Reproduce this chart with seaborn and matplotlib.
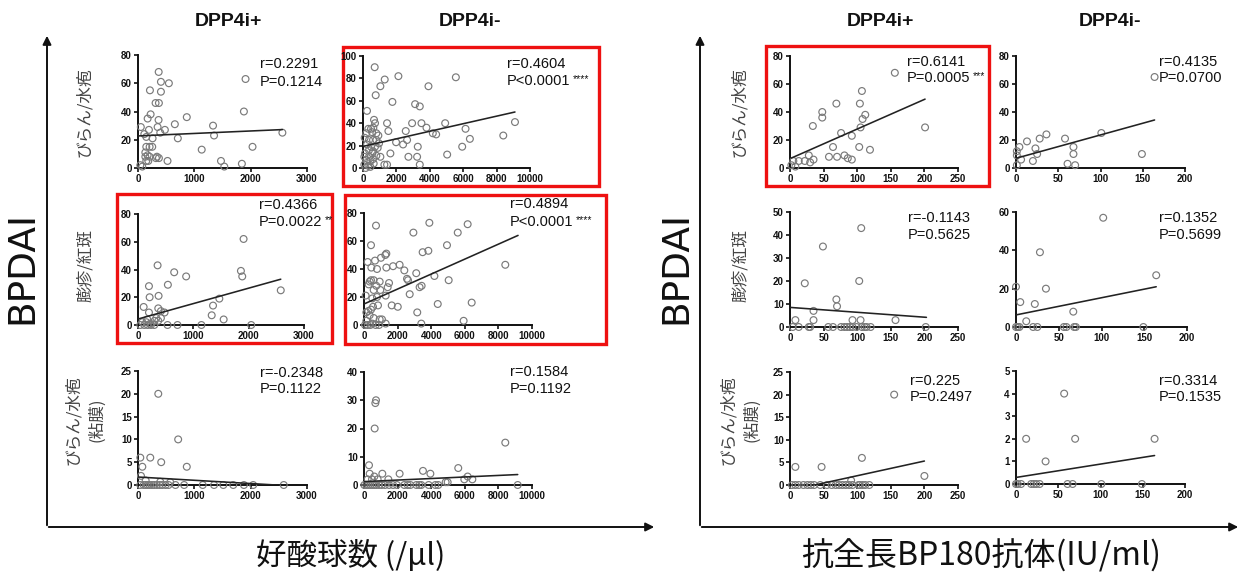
import numpy as np
import pandas as pd
import matplotlib
matplotlib.use("Agg")
import matplotlib.pyplot as plt
import seaborn as sns
from matplotlib.patches import Rectangle

# ---------------- DATA ----------------
# Eosinophil count (/µl), DPP4i+ : erosion/blister
eos_pos_ero_x = [367,407,548,407,212,312,371,365,224,171,654,866,348,477,194,395,112,147,259,707,
                 1332,1350,1880,1909,2033,2563,1131,1473,1532,1844,524,147,206,253,130,171,206,336,371,318,
                 130,147,183,41,76,50]
eos_pos_ero_y = [68,61,60,54,55,46,46,34,38,35,31,36,29,27,27,25,24,22,21,21,
                 30,23,40,63,15,25,13,5,1,3,5,15,15,15,11,9,8,8,7,7,
                 8,5,5,2,1,29]
# DPP4i- : erosion/blister
eos_neg_ero_x = [700,2120,5560,1300,1040,3920,760,1760,240,3120,3400,660,720,1440,2940,3500,4920,9100,3800,6140,
                 1520,2560,4180,4380,6400,8400,2640,2400,3280,5940,1980,1640,5040,1040,2720,3240,3400,1280,1440,
                 320,480,620,540,800,920,200,100,360,600,800,960,240,480,720,880,360,600,120,560,800,80,360,600,
                 200,440,80,320,640,160,440]
eos_neg_ero_y = [90,82,81,79,73,73,65,59,51,57,55,43,40,40,40,40,40,41,36,35,
                 33,33,31,30,26,29,25,21,19,19,23,13,12,10,10,10,3,3,3,
                 35,35,36,32,31,29,31,27,25,25,25,22,21,19,19,18,16,15,13,13,11,10,10,
                 8,7,6,3,2,4,0,1]
# DPP4i+ : wheal/erythema
eos_pos_whl_x = [354,654,870,1908,1860,1884,2580,198,210,372,540,102,198,366,414,480,1470,1356,1332,1548,
                 414,330,300,168,366,534,714,1146,2046,42,114,174,234,294,78,150,222]
eos_pos_whl_y = [43,38,35,62,39,35,25,28,20,21,29,13,9,12,10,9,19,14,7,4,
                 5,5,3,4,3,0,0,0,0,0,0,0,0,0,2,2,1]
# DPP4i- : wheal/erythema
eos_neg_whl_x = [714,3890,6170,2940,5580,417,4940,1330,1270,3490,3830,1010,655,218,2120,1730,2400,437,774,1330,
                 8410,3110,2560,2620,4190,5040,417,337,575,933,734,278,1490,1410,3310,3430,972,575,2720,99,
                 1290,774,496,1650,2010,4390,6410,833,536,417,258,3170,5930,3410,139,337,575,933,1070,1290,
                 60,218,377,496,694,893,139]
eos_neg_whl_y = [71,73,72,66,66,57,57,51,50,52,53,48,46,45,43,42,39,41,40,41,
                 43,37,33,32,35,32,32,31,32,31,28,29,30,27,27,28,25,25,22,21,
                 21,20,19,14,13,15,16,14,13,11,10,9,3,1,9,7,5,4,4,1,
                 0,0,0,1,0,0,3]
# DPP4i+ : mucosal erosion/blister
eos_pos_muc_x = [360,713,41,218,412,77,866,53,136,395,572,
                 41,100,136,171,206,247,289,336,383,430,489,542,665,819,1149,1350,1515,1691,1880,2045,2587]
eos_pos_muc_y = [20,10,6,6,5,4,4,2,1,0.7,0.6] + [0]*21
# DPP4i- : mucosal erosion/blister
eos_neg_muc_x = [714,675,635,8410,298,5610,3510,3950,2120,1090,337,615,6170,5970,6450,1450,813,218,4980,4860,476,
                 20,139,258,377,496,615,734,893,1052,1250,1490,1730,1960,2400,2600,2760,3120,3290,3410,3850,
                 4250,4420,9150]
eos_neg_muc_y = [30,29,20,15,7,6,5,4,4,4,4,3,3,2,2,2,2,2,1,1,2] + [0]*23

# Anti full-length BP180 antibody (IU/ml)
bp_pos_ero_x = [156,107,69,104,48,48,112,108,34,105,201,76,92,64,103,119,58,70,81,86,92,28,35,22,13,5,8,30,2]
bp_pos_ero_y = [68,55,46,46,40,36,38,35,30,29,29,25,23,15,15,13,8,8,9,7,6,9,6,5,5,5,1,4,2]
bp_neg_ero_x = [164,101,149,58,36,28,13,4,23,25,20,6,68,68,61,70,1,1,1]
bp_neg_ero_y = [65,25,10,21,24,21,19,15,14,10,5,6,15,10,3,2,12,9,2]
bp_pos_whl_x = [106,49,22,103,69,70,35,35,8,93,105,157,
                4,13,28,30,57,64,76,81,85,89,93,99,107,111,114,120,202]
bp_pos_whl_y = [43,35,19,20,12,9,7,3,3,3,3,3] + [0]*17
bp_neg_whl_x = [102,28,35,164,0,5,22,12,67, 0,2,4,20,25,56,59,68,70,149]
bp_neg_whl_y = [57,39,20,27,21,13,12,3,8] + [0]*10
bp_pos_muc_x = [155,107,8,47,200,91, 3,8,13,20,26,31,36,45,55,62,68,73,78,83,88,93,102,104,108,112,118]
bp_pos_muc_y = [20,6,4,4,2,1] + [0]*21
bp_neg_muc_x = [57,12,70,164,35, 0,2,6,18,21,24,28,61,67,101,149]
bp_neg_muc_y = [4,2,2,2,1] + [0]*11

# regression line end points: (x0, y0, x1, y1)
fit_lines = {
    "p1": (0, 22.7, 2563, 27.2), "p2": (0, 19.3, 9100, 50.0),
    "p3": (0, 4.3, 2580, 33.0), "p4": (0, 15.0, 9170, 64.0),
    "p5": (0, 1.75, 2587, -0.1), "p6": (0, 1.2, 9150, 3.7),
    "p7": (2, 7.1, 201, 49.2), "p8": (1, 7.1, 164, 34.3),
    "p9": (1, 8.5, 203, 4.2), "p10": (0, 6.3, 164, 21.0),
    "p11": (3, -1.1, 200, 5.3), "p12": (0, 0.29, 164, 1.26),
}
r_texts = ["r=0.2291", "r=0.4604", "r=0.4366", "r=0.4894", "r=-0.2348", "r=0.1584",
           "r=0.6141", "r=0.4135", "r=-0.1143", "r=0.1352", "r=0.225", "r=0.3314"]
p_texts = ["P=0.1214", "P<0.0001", "P=0.0022", "P<0.0001", "P=0.1122", "P=0.1192",
           "P=0.0005", "P=0.0700", "P=0.5625", "P=0.5699", "P=0.2497", "P=0.1535"]
stars = ["", "****", "**", "****", "", "", "***", "", "", "", "", ""]
col_titles = ["DPP4i+", "DPP4i-"]
row_labels = ["びらん/水疱", "膨疹/紅斑", "びらん/水疱\n(粘膜)"]
y_label = "BPDAI"
x_labels = ["好酸球数 (/µl)", "抗全長BP180抗体(IU/ml)"]

# ---------------- LAYOUT ----------------
W, H = 1246, 580
sns.set_style("ticks")
plt.rcParams["font.family"] = ["Liberation Sans", "Noto Sans CJK JP", "DejaVu Sans"]
fig = plt.figure(figsize=(W / 100, H / 100), dpi=100)
fig.patch.set_facecolor("white")

bg = fig.add_axes([0, 0, 1, 1], zorder=0)
bg.set_xlim(0, W); bg.set_ylim(H, 0); bg.axis("off")

panels = [
    # key, x, y, (left, right, top, bottom) px, xlim, xstep, ylim, ystep, text pos
    ("p1", eos_pos_ero_x, eos_pos_ero_y, (138, 307, 55, 168), 3000, 1000, 80, 20, (260, 64, 82)),
    ("p2", eos_neg_ero_x, eos_neg_ero_y, (363, 530, 56, 168), 10000, 2000, 100, 20, (507, 64, 81)),
    ("p3", eos_pos_whl_x, eos_pos_whl_y, (138, 304, 214, 325), 3000, 1000, 80, 20, (259, 205, 222)),
    ("p4", eos_neg_whl_x, eos_neg_whl_y, (364, 532, 213, 325), 10000, 2000, 80, 20, (510, 204, 222)),
    ("p5", eos_pos_muc_x, eos_pos_muc_y, (138, 307, 371, 485), 3000, 1000, 25, 5, (260, 373, 389)),
    ("p6", eos_neg_muc_x, eos_neg_muc_y, (364, 532, 372, 485), 10000, 2000, 40, 10, (510, 372, 389)),
    ("p7", bp_pos_ero_x, bp_pos_ero_y, (790, 958, 56, 168), 250, 50, 80, 20, (907, 62, 78)),
    ("p8", bp_neg_ero_x, bp_neg_ero_y, (1016, 1185, 56, 168), 200, 50, 80, 20, (1159, 62, 78)),
    ("p9", bp_pos_whl_x, bp_pos_whl_y, (790, 958, 212, 327), 250, 50, 50, 10, (908, 218, 235)),
    ("p10", bp_neg_whl_x, bp_neg_whl_y, (1016, 1187, 212, 327), 200, 50, 60, 20, (1159, 218, 235)),
    ("p11", bp_pos_muc_x, bp_pos_muc_y, (790, 958, 372, 485), 250, 50, 25, 5, (910, 381, 397)),
    ("p12", bp_neg_muc_x, bp_neg_muc_y, (1016, 1185, 371, 484), 200, 50, 5, 1, (1159, 381, 397)),
]

for i, (key, xs, ys, (l, r, t, b), xmax, xstep, ymax, ystep, (tx, ty1, ty2)) in enumerate(panels):
    ax = fig.add_axes([l / W, 1 - b / H, (r - l) / W, (b - t) / H], zorder=2)
    ax.set_facecolor("none")
    df = pd.DataFrame({"x": xs, "y": ys})
    sns.scatterplot(data=df, x="x", y="y", ax=ax, marker="o", s=24,
                    facecolors="none", edgecolor="#7a7a7a", linewidth=0.85, clip_on=False, zorder=3)
    x0, y0, x1, y1 = fit_lines[key]
    lf = pd.DataFrame({"x": [x0, x1], "y": [y0, y1]})
    sns.lineplot(data=lf, x="x", y="y", ax=ax, color="#222222", linewidth=1.15, zorder=4)
    ax.set_xlim(0, xmax); ax.set_ylim(0, ymax)
    ax.set_xticks(np.arange(0, xmax + 1, xstep))
    ax.set_yticks(np.arange(0, ymax + 0.001, ystep))
    ax.set_xlabel(""); ax.set_ylabel("")
    for s in ["top", "right"]:
        ax.spines[s].set_visible(False)
    for s in ["left", "bottom"]:
        ax.spines[s].set_linewidth(1.4)
        ax.spines[s].set_color("#111111")
    ax.tick_params(axis="both", labelsize=7, width=1.2, length=3, pad=1.5, colors="#111111")
    for lab in ax.get_xticklabels() + ax.get_yticklabels():
        lab.set_fontweight("bold")
    # statistics text
    bg.text(tx, ty1, r_texts[i], fontsize=10.5, va="center", ha="left", color="#111111")
    pt = bg.text(tx, ty2, p_texts[i], fontsize=10.5, va="center", ha="left", color="#111111")
    if stars[i]:
        bg.annotate(stars[i], xy=(1, 1), xycoords=pt, xytext=(1.5, 0), textcoords="offset points",
                    fontsize=7.5, va="top", ha="left", color="#111111")

# red highlight boxes
for (x0, y0, x1, y1) in [(343, 47, 599, 186), (117, 194, 332, 343), (345, 195, 606, 344), (766, 46, 989, 186)]:
    bg.add_patch(Rectangle((x0, y0), x1 - x0, y1 - y0, fill=False, edgecolor="#ee1111", linewidth=2.4))

# big L-shaped axes with arrows
for (vx, hx_end) in [(47, 657), (700, 1241)]:
    bg.annotate("", xy=(vx, 33), xytext=(vx, 528),
                arrowprops=dict(arrowstyle="-|>,head_width=0.25,head_length=0.5", color="#111111", lw=1.4))
    bg.annotate("", xy=(hx_end, 527), xytext=(vx - 1, 527),
                arrowprops=dict(arrowstyle="-|>,head_width=0.25,head_length=0.5", color="#111111", lw=1.4))

cjk = ["Noto Sans CJK JP", "DejaVu Sans"]
# BPDAI labels
for x in (22, 676):
    bg.text(x, 268, y_label, rotation=90, fontsize=27, ha="center", va="center",
            family=["DejaVu Sans"], color="#111111")
# x labels
bg.text(351, 556, x_labels[0], fontsize=22, ha="center", va="center", family=cjk, color="#111111")
bg.text(981, 556, x_labels[1], fontsize=23, ha="center", va="center", family=cjk, color="#111111")
# column titles
for x, t in [(228, col_titles[0]), (470, col_titles[1]), (880, col_titles[0]), (1110, col_titles[1])]:
    bg.text(x, 22, t, fontsize=14, fontweight="bold", ha="center", va="center", color="#111111")
# row labels
for x in (85, 740):
    for y, t in zip((112, 265, 420), row_labels):
        bg.text(x, y, t, rotation=90, fontsize=12, ha="center", va="center", family=cjk,
                color="#444444", linespacing=1.45, multialignment="center")

fig.savefig("out.png", dpi=100, facecolor="white")
